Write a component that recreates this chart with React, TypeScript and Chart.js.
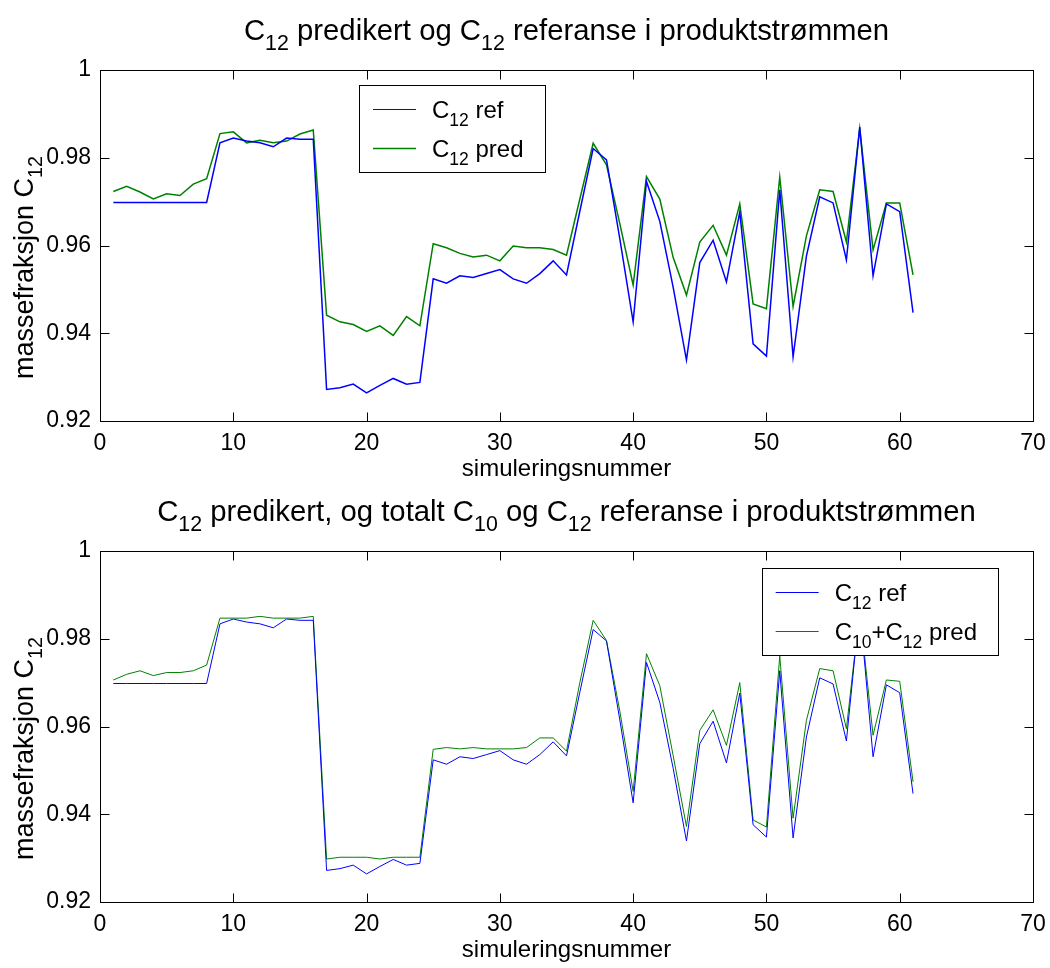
import { useEffect, useRef } from "react";
import { Chart, registerables } from "chart.js";

Chart.register(...registerables);

const FONT = "'Liberation Sans', Arial, Helvetica, sans-serif";

// simulation numbers (x categories)
const simNr = [
  1, 2, 3, 4, 5, 6, 7, 8, 9, 10, 11, 12, 13, 14, 15, 16, 17, 18, 19, 20,
  21, 22, 23, 24, 25, 26, 27, 28, 29, 30, 31, 32, 33, 34, 35, 36, 37, 38, 39, 40,
  41, 42, 43, 44, 45, 46, 47, 48, 49, 50, 51, 52, 53, 54, 55, 56, 57, 58, 59, 60, 61,
];

// C12 reference (same in both panels)
const c12Ref = [
  0.9698, 0.9698, 0.9698, 0.9698, 0.9698, 0.9698, 0.9698, 0.9698, 0.9834, 0.9845,
  0.9838, 0.9834, 0.9825, 0.9845, 0.9842, 0.9842, 0.9272, 0.9276, 0.9284, 0.9264,
  0.9281, 0.9297, 0.9284, 0.9288, 0.9524, 0.9514, 0.9531, 0.9527, 0.9536, 0.9545,
  0.9524, 0.9514, 0.9536, 0.9565, 0.9533, 0.9678, 0.9821, 0.9795, 0.9615, 0.9426,
  0.9746, 0.9655, 0.9505, 0.9339, 0.9561, 0.9612, 0.9517, 0.9676, 0.9376, 0.9348,
  0.9727, 0.9346, 0.9576, 0.9711, 0.9697, 0.9567, 0.9870, 0.9531, 0.9695, 0.9677,
  0.9447,
];

// C12 predicted (top panel)
const c12Pred = [
  0.9723, 0.9735, 0.9722, 0.9706, 0.9718, 0.9714, 0.9740, 0.9752, 0.9855, 0.9859,
  0.9834, 0.9840, 0.9834, 0.9838, 0.9854, 0.9863, 0.9441, 0.9426, 0.9420, 0.9404,
  0.9417, 0.9395, 0.9438, 0.9417, 0.9604, 0.9595, 0.9582, 0.9574, 0.9578, 0.9565,
  0.9599, 0.9595, 0.9595, 0.9591, 0.9578, 0.9706, 0.9833, 0.9784, 0.9650, 0.9510,
  0.9757, 0.9706, 0.9573, 0.9487, 0.9608, 0.9646, 0.9578, 0.9695, 0.9467, 0.9456,
  0.9756, 0.9461, 0.9622, 0.9727, 0.9723, 0.9608, 0.9867, 0.9590, 0.9697, 0.9697,
  0.9533,
];

// C10+C12 predicted (bottom panel)
const c10c12Pred = [
  0.9706, 0.9719, 0.9727, 0.9716, 0.9723, 0.9723, 0.9727, 0.9740, 0.9847, 0.9847,
  0.9847, 0.9851, 0.9847, 0.9847, 0.9847, 0.9851, 0.9298, 0.9302, 0.9302, 0.9302,
  0.9298, 0.9302, 0.9302, 0.9302, 0.9548, 0.9552, 0.9549, 0.9552, 0.9549, 0.9549,
  0.9549, 0.9552, 0.9574, 0.9574, 0.9544, 0.9700, 0.9842, 0.9796, 0.9635, 0.9452,
  0.9766, 0.9693, 0.9534, 0.9372, 0.9591, 0.9638, 0.9557, 0.9700, 0.9387, 0.9371,
  0.9761, 0.9391, 0.9614, 0.9732, 0.9727, 0.9595, 0.9865, 0.9580, 0.9706, 0.9703,
  0.9474,
];

const xMin = 0;
const xMax = 70;
const xStep = 10;
const yMin = 0.92;
const yMax = 1;
const yStep = 0.02;

type Seg = { t: string; sub?: boolean };

const title1: Seg[] = [
  { t: "C" }, { t: "12", sub: true }, { t: " predikert og C" }, { t: "12", sub: true },
  { t: " referanse i produktstrømmen" },
];
const title2: Seg[] = [
  { t: "C" }, { t: "12", sub: true }, { t: " predikert, og totalt C" }, { t: "10", sub: true },
  { t: " og C" }, { t: "12", sub: true }, { t: " referanse i produktstrømmen" },
];
const yLabel: Seg[] = [{ t: "massefraksjon C" }, { t: "12", sub: true }];
const xLabel = "simuleringsnummer";
const legRef: Seg[] = [{ t: "C" }, { t: "12", sub: true }, { t: " ref" }];
const legPredTop: Seg[] = [{ t: "C" }, { t: "12", sub: true }, { t: " pred" }];
const legPredBottom: Seg[] = [
  { t: "C" }, { t: "10", sub: true }, { t: "+C" }, { t: "12", sub: true }, { t: " pred" },
];

const SUB = 0.73;

function richWidth(ctx: CanvasRenderingContext2D, segs: Seg[], fs: number) {
  let w = 0;
  for (const s of segs) {
    ctx.font = `${s.sub ? fs * SUB : fs}px ${FONT}`;
    w += ctx.measureText(s.t).width;
  }
  return w;
}

function drawRich(ctx: CanvasRenderingContext2D, segs: Seg[], x: number, y: number, fs: number) {
  let cx = x;
  ctx.textAlign = "left";
  ctx.textBaseline = "alphabetic";
  for (const s of segs) {
    const f = s.sub ? fs * SUB : fs;
    ctx.font = `${f}px ${FONT}`;
    ctx.fillText(s.t, cx, s.sub ? y + fs * 0.35 : y);
    cx += ctx.measureText(s.t).width;
  }
}

const matlabPlugin = {
  id: "matlab",
  afterDraw(chart: any, _args: any, opts: any) {
    const ctx: CanvasRenderingContext2D = chart.ctx;
    const a = chart.chartArea;
    const xs = chart.scales.x;
    const ys = chart.scales.y;
    ctx.save();
    ctx.fillStyle = "#000";
    ctx.strokeStyle = "#000";
    ctx.lineWidth = 1;
    const L = Math.round(a.left) + 0.5;
    const R = Math.round(a.right) + 0.5;
    const T = Math.round(a.top) + 0.5;
    const B = Math.round(a.bottom) + 0.5;
    ctx.strokeRect(L, T, R - L, B - T);
    ctx.beginPath();
    for (const t of xs.ticks) {
      const px = Math.round(xs.getPixelForValue(t.value)) + 0.5;
      ctx.moveTo(px, B);
      ctx.lineTo(px, B - 9);
      ctx.moveTo(px, T);
      ctx.lineTo(px, T + 9);
    }
    for (const t of ys.ticks) {
      const py = Math.round(ys.getPixelForValue(t.value)) + 0.5;
      ctx.moveTo(L, py);
      ctx.lineTo(L + 9, py);
      ctx.moveTo(R, py);
      ctx.lineTo(R - 9, py);
    }
    ctx.stroke();

    // title
    const tfs = 29.3;
    const tw = richWidth(ctx, opts.title, tfs);
    const cx = (a.left + a.right) / 2;
    drawRich(ctx, opts.title, cx - tw / 2, a.top - 30, tfs);

    // x label
    ctx.font = `24px ${FONT}`;
    ctx.textAlign = "center";
    ctx.textBaseline = "alphabetic";
    ctx.fillText(opts.xLabel, cx, a.bottom + 55);

    // y label (rotated)
    const yfs = 27;
    const yw = richWidth(ctx, opts.yLabel, yfs);
    ctx.save();
    ctx.translate(33, (a.top + a.bottom) / 2 + 22);
    ctx.rotate(-Math.PI / 2);
    drawRich(ctx, opts.yLabel, -yw / 2, 0, yfs);
    ctx.restore();

    // legend
    const lg = opts.legend;
    const lfs = 24;
    let maxW = 0;
    for (const it of lg.items) maxW = Math.max(maxW, richWidth(ctx, it.label, lfs));
    const boxW = 14 + 43 + 16 + maxW + 21;
    const boxH = 87;
    const bx = lg.left !== undefined ? a.left + lg.left : a.right - lg.right - boxW;
    const by = a.top + lg.top;
    ctx.fillStyle = "#fff";
    ctx.fillRect(bx, by, boxW, boxH);
    ctx.strokeStyle = "#000";
    ctx.lineWidth = 1;
    ctx.strokeRect(Math.round(bx) + 0.5, Math.round(by) + 0.5, Math.round(boxW), boxH);
    lg.items.forEach((it: any, i: number) => {
      const ry = Math.round(by + 23.5 + i * 39.5) + 0.5;
      ctx.strokeStyle = it.color;
      ctx.lineWidth = it.width;
      ctx.beginPath();
      ctx.moveTo(bx + 14, ry);
      ctx.lineTo(bx + 57, ry);
      ctx.stroke();
      ctx.fillStyle = "#000";
      drawRich(ctx, it.label, bx + 73, ry + 8, lfs);
    });
    ctx.restore();
  },
};

function makeChart(
  canvas: HTMLCanvasElement,
  pred: number[],
  lw: number,
  topPad: number,
  xAxisH: number,
  cfg: any
) {
  return new Chart(canvas, {
    type: "line",
    data: {
      datasets: [
        {
          data: simNr.map((x, i) => ({ x, y: c12Ref[i] })),
          borderColor: "#0000ff",
          borderWidth: lw,
          pointRadius: 0,
          tension: 0,
          fill: false,
        },
        {
          data: simNr.map((x, i) => ({ x, y: pred[i] })),
          borderColor: "#008000",
          borderWidth: lw,
          pointRadius: 0,
          tension: 0,
          fill: false,
        },
      ],
    },
    options: {
      animation: false,
      responsive: false,
      maintainAspectRatio: false,
      devicePixelRatio: 1,
      layout: { padding: { top: topPad, right: 17, left: 0, bottom: 0 } },
      plugins: {
        legend: { display: false },
        title: { display: false },
        tooltip: { enabled: false },
        matlab: cfg,
      } as any,
      scales: {
        x: {
          type: "linear",
          min: xMin,
          max: xMax,
          ticks: {
            stepSize: xStep,
            color: "#000",
            font: { family: FONT, size: 23 },
            padding: 9,
            maxRotation: 0,
            autoSkip: false,
          },
          grid: { display: false, drawTicks: false },
          border: { display: false },
          afterFit: (s: any) => {
            s.height = xAxisH;
            s.paddingLeft = 0;
            s.paddingRight = 0;
          },
        },
        y: {
          type: "linear",
          min: yMin,
          max: yMax,
          ticks: {
            stepSize: yStep,
            color: "#000",
            font: { family: FONT, size: 23 },
            padding: 9,
            callback: (v: any) => {
              const n = Number(v);
              return Math.abs(n - 1) < 1e-9 ? "1" : n.toFixed(2);
            },
          },
          grid: { display: false, drawTicks: false },
          border: { display: false },
          afterFit: (s: any) => {
            s.width = 100;
          },
        },
      } as any,
    },
    plugins: [matlabPlugin],
  });
}

export default function App() {
  const r1 = useRef<HTMLCanvasElement>(null);
  const r2 = useRef<HTMLCanvasElement>(null);

  useEffect(() => {
    const c1 = makeChart(r1.current!, c12Pred, 1.5, 70, 63, {
      title: title1,
      xLabel,
      yLabel,
      legend: {
        left: 259,
        top: 15,
        items: [
          { label: legRef, color: "#0000ff", width: 1 },
          { label: legPredTop, color: "#008000", width: 1.5 },
        ],
      },
    });
    const c2 = makeChart(r2.current!, c10c12Pred, 1, 67, 66, {
      title: title2,
      xLabel,
      yLabel,
      legend: {
        right: 35,
        top: 17,
        items: [
          { label: legRef, color: "#0000ff", width: 1 },
          { label: legPredBottom, color: "#008000", width: 1 },
        ],
      },
    });
    return () => {
      c1.destroy();
      c2.destroy();
    };
  }, []);

  return (
    <div
      style={{
        position: "absolute",
        left: 0,
        top: 0,
        width: 1050,
        height: 968,
        background: "#fff",
      }}
    >
      <canvas ref={r1} width={1050} height={484} style={{ display: "block", width: 1050, height: 484 }} />
      <canvas ref={r2} width={1050} height={484} style={{ display: "block", width: 1050, height: 484 }} />
    </div>
  );
}
